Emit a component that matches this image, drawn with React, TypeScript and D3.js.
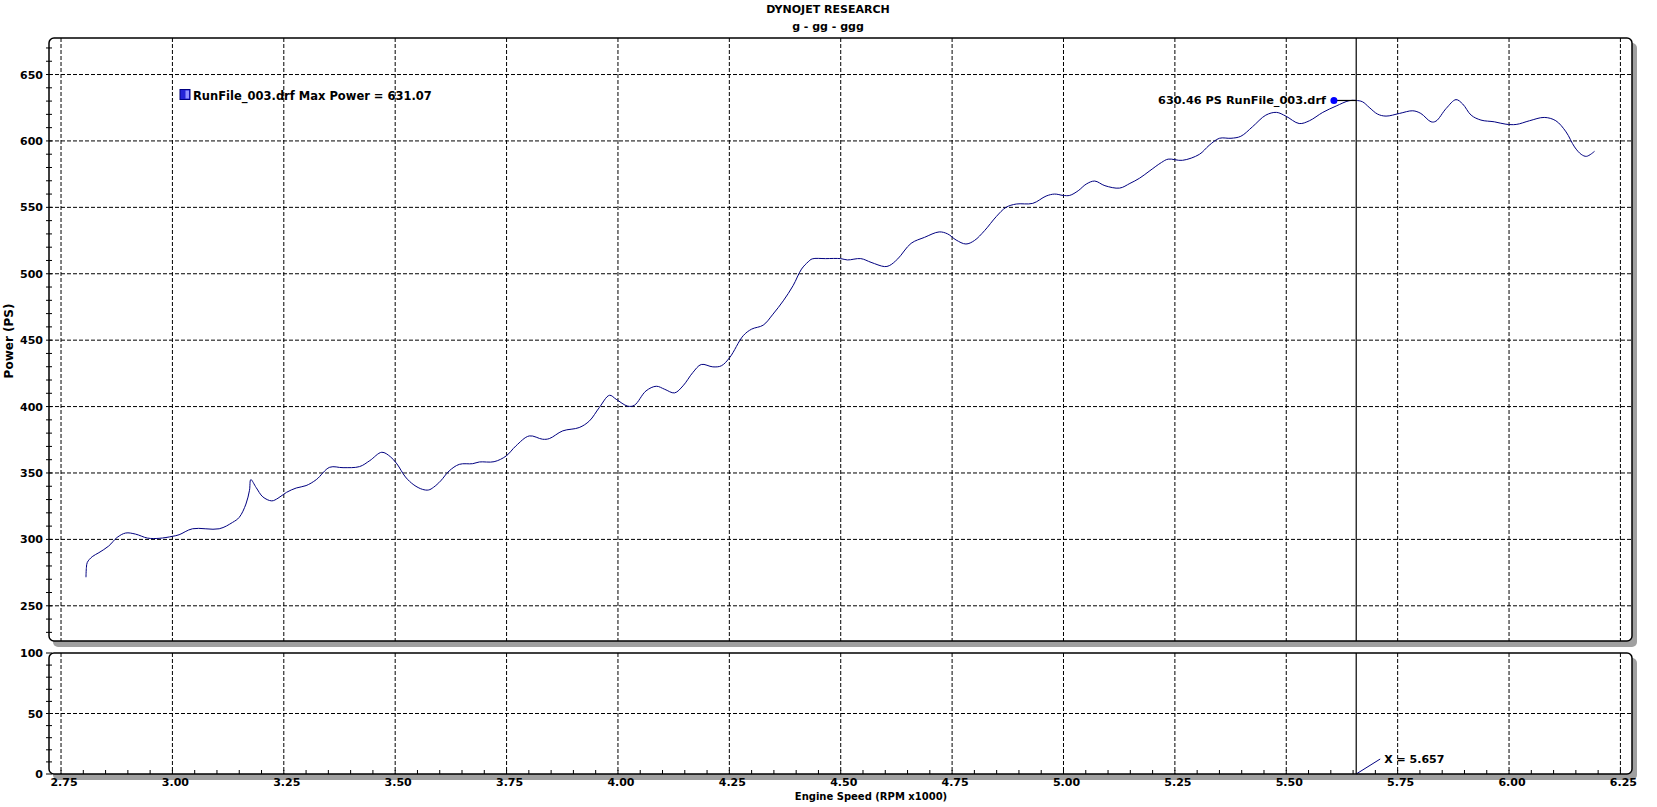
import * as d3 from 'd3';

// Engine speed (x1000 RPM) and power (PS)
const RPM = [
  2.806, 2.807, 2.809, 2.82, 2.835, 2.857, 2.876, 2.895, 2.917, 2.944, 2.97, 3.0, 3.015, 3.045, 3.105,
  3.135, 3.15, 3.165, 3.173, 3.176, 3.188, 3.203, 3.223, 3.237, 3.256, 3.278, 3.3, 3.323, 3.353, 3.383,
  3.42, 3.443, 3.47, 3.489, 3.504, 3.523, 3.542, 3.561, 3.575, 3.586, 3.602, 3.621, 3.644, 3.674, 3.689,
  3.722, 3.749, 3.771, 3.801, 3.831, 3.846, 3.876, 3.913, 3.936, 3.958, 3.981, 3.996, 4.022, 4.037, 4.063,
  4.086, 4.105, 4.127, 4.146, 4.168, 4.187, 4.213, 4.232, 4.251, 4.281, 4.3, 4.326, 4.348, 4.371, 4.393,
  4.412, 4.427, 4.436, 4.466, 4.5, 4.515, 4.545, 4.568, 4.598, 4.609, 4.628, 4.658, 4.688, 4.721, 4.74,
  4.759, 4.781, 4.8, 4.823, 4.849, 4.871, 4.894, 4.931, 4.961, 4.98, 4.999, 5.014, 5.033, 5.051, 5.07,
  5.093, 5.126, 5.149, 5.171, 5.194, 5.22, 5.235, 5.267, 5.305, 5.327, 5.35, 5.376, 5.398, 5.424, 5.454,
  5.478, 5.499, 5.529, 5.552, 5.582, 5.612, 5.641, 5.656, 5.671, 5.686, 5.705, 5.724, 5.754, 5.784, 5.802,
  5.825, 5.836, 5.859, 5.881, 5.896, 5.915, 5.937, 5.967, 5.993, 6.016, 6.046, 6.079, 6.105, 6.128, 6.147,
  6.162, 6.174, 6.192,
];
const POWER = [
  271.5, 279, 282.7, 287, 290, 295, 301.5, 304.8, 304, 301, 300.8, 302.3, 303.5, 308, 308,
  312.8, 316.6, 326.6, 337, 345, 339, 332, 329, 331, 335.4, 338.7, 340.5, 345, 354.3, 354,
  354.8, 359.3, 365.6, 362.3, 356.8, 347, 341, 337.7, 337.2, 339.2, 344, 351.5, 356.5, 357, 358.3,
  358.5, 362.8, 370.4, 377.9, 375.4, 375.9, 381.7, 384.2, 389.2, 399.2, 408.5, 405.5, 400.3, 401, 411.8,
  415.3, 413, 410.3, 415.6, 425.6, 431.7, 429.9, 430.7, 437, 453.3, 458.3, 461.3, 469.6, 479.6, 491,
  503.5, 509, 511.2, 511.4, 511.4, 510.4, 511.4, 508.6, 505.4, 506.1, 511.2, 522.9, 527.4, 531.5, 530,
  525.4, 522.4, 525, 532.5, 543, 550, 552.5, 553, 558.5, 560, 559, 559, 562.5, 567.5, 569.8,
  566.3, 564.5, 568, 572, 577.6, 583.8, 586.3, 585.4, 589.9, 596.7, 602, 602, 603.5, 610.6, 619.4,
  621.5, 618.7, 613.1, 615.2, 621.5, 626.3, 630.3, 630.5, 629.5, 625.3, 620.2, 618.7, 620.7, 622.7, 620.7,
  614.4, 614.9, 624.5, 631.1, 627.8, 619.4, 615.7, 614.4, 612.6, 612.4, 615.2, 617.7, 615.2, 606.8, 595.5,
  589.9, 588.4, 592.2,
];

const X_TICKS = [2.75, 3.0, 3.25, 3.5, 3.75, 4.0, 4.25, 4.5, 4.75, 5.0, 5.25, 5.5, 5.75, 6.0, 6.25];
const POWER_TICKS = [250, 300, 350, 400, 450, 500, 550, 600, 650];
const LOWER_TICKS = [0, 50, 100];

const TITLE = 'DYNOJET RESEARCH';
const SUBTITLE = 'g - gg - ggg';
const RUN_NAME = 'RunFile_003.drf';
const MAX_POWER = 631.07;
const CURSOR_RPM = 5.657;
const CURSOR_POWER = 630.46;
const MARKER_RPM = 5.607;

const W = 1657;
const H = 807;
const LEFT = 49;
const RIGHT = 1632;
const TOP = { y0: 38, y1: 641 };
const LOW = { y0: 653, y1: 774 };
const FONT = 'DejaVu Sans, Verdana, sans-serif';
const LINE_COLOR = '#000080';
const DASH = '4,2';

function Panel({ y0, y1 }: { y0: number; y1: number }) {
  return (
    <>
      <rect x={LEFT + 4} y={y0 + 5} width={RIGHT - LEFT + 1} height={y1 - y0 + 1} rx={5} fill="#a0a0a0" />
      <rect x={LEFT} y={y0} width={RIGHT - LEFT} height={y1 - y0} rx={5} fill="#fff" />
    </>
  );
}

function PanelBorder({ y0, y1 }: { y0: number; y1: number }) {
  return (
    <rect
      x={LEFT} y={y0} width={RIGHT - LEFT} height={y1 - y0} rx={5}
      fill="none" stroke="#000" strokeWidth={1.5}
    />
  );
}

export default function App() {
  const x = d3.scaleLinear().domain([2.723, 6.276]).range([LEFT, RIGHT]);
  const y = d3.scaleLinear().domain([223.5, 677.5]).range([TOP.y1, TOP.y0]);
  const yLow = d3.scaleLinear().domain([0, 100]).range([LOW.y1, LOW.y0]);

  const pts: [number, number][] = RPM.map((r, i) => [r, POWER[i]]);
  const line = d3.line<[number, number]>()
    .x((d) => x(d[0]))
    .y((d) => y(d[1]))
    .curve(d3.curveCatmullRom.alpha(0.5));

  const xMinor = d3.range(2.75, 6.2501, 0.05);
  const yMinor = d3.range(230, 680, 10).filter((v) => v > 223.5 && v < 677.5);
  const lowMinor = d3.range(0, 101, 10);

  const fmtX = d3.format('.2f');
  const cx = x(CURSOR_RPM);
  const cy = y(CURSOR_POWER);
  const mx = x(MARKER_RPM);

  return (
    <svg
      width={W}
      height={H}
      style={{ position: 'absolute', left: 0, top: 0, background: '#fff' }}
      fontFamily={FONT}
      fontWeight="bold"
      fontSize={11}
    >
      <text x={828} y={13} textAnchor="middle">{TITLE}</text>
      <text x={828} y={30} textAnchor="middle">{SUBTITLE}</text>

      <Panel {...TOP} />
      <Panel {...LOW} />

      {/* vertical grid, both panels */}
      {X_TICKS.map((t) => (
        <g key={`vx${t}`} stroke="#000" strokeWidth={1} strokeDasharray={DASH}>
          <line x1={x(t)} x2={x(t)} y1={TOP.y0} y2={TOP.y1} />
          <line x1={x(t)} x2={x(t)} y1={LOW.y0} y2={LOW.y1} />
        </g>
      ))}
      {POWER_TICKS.map((t) => (
        <line key={`hy${t}`} x1={LEFT} x2={RIGHT} y1={y(t)} y2={y(t)} stroke="#000" strokeDasharray={DASH} />
      ))}
      {LOWER_TICKS.filter((t) => t > 0 && t < 100).map((t) => (
        <line key={`hl${t}`} x1={LEFT} x2={RIGHT} y1={yLow(t)} y2={yLow(t)} stroke="#000" strokeDasharray={DASH} />
      ))}

      {/* power trace */}
      <path d={line(pts) ?? ''} fill="none" stroke={LINE_COLOR} strokeWidth={1} />

      {/* cursor */}
      <line x1={cx} x2={cx} y1={TOP.y0} y2={TOP.y1} stroke="#000" strokeWidth={1.2} />
      <line x1={cx} x2={cx} y1={LOW.y0} y2={LOW.y1} stroke="#000" strokeWidth={1.2} />
      <line x1={mx} x2={cx} y1={cy} y2={cy} stroke="#000" strokeWidth={1.2} />
      <circle cx={mx} cy={cy} r={3.5} fill="#0000ff" />
      <text x={mx - 8} y={cy + 4} textAnchor="end" fontSize={11.3}>
        {`${CURSOR_POWER.toFixed(2)} PS ${RUN_NAME}`}
      </text>
      <line x1={cx} y1={LOW.y1} x2={cx + 24} y2={LOW.y1 - 15} stroke={LINE_COLOR} strokeWidth={1} />
      <text x={cx + 28} y={LOW.y1 - 11}>{`X = ${CURSOR_RPM.toFixed(3)}`}</text>

      {/* legend */}
      <rect x={180} y={89.5} width={10} height={10} fill="#2424d8" stroke="#000080" strokeWidth={1} />
      <rect x={185.5} y={90.5} width={3.5} height={8} fill="#9090ff" />
      <text x={193} y={100} fontSize={11.5}>{`${RUN_NAME} Max Power = ${MAX_POWER.toFixed(2)}`}</text>

      <PanelBorder {...TOP} />
      <PanelBorder {...LOW} />

      {/* y ticks */}
      {yMinor.map((t) => (
        <line key={`ym${t}`} x1={LEFT - 3} x2={LEFT + 3} y1={y(t)} y2={y(t)} stroke="#000" />
      ))}
      {lowMinor.map((t) => (
        <line key={`lm${t}`} x1={LEFT - 3} x2={LEFT + 3} y1={yLow(t)} y2={yLow(t)} stroke="#000" />
      ))}
      {POWER_TICKS.map((t) => (
        <text key={`yl${t}`} x={43} y={y(t) + 4} textAnchor="end">{t}</text>
      ))}
      {LOWER_TICKS.map((t) => (
        <text key={`ll${t}`} x={43} y={yLow(t) + 4} textAnchor="end">{t}</text>
      ))}

      {/* x ticks */}
      {xMinor.map((t) => (
        <line key={`xm${t.toFixed(2)}`} x1={x(t)} x2={x(t)} y1={LOW.y1 - 4} y2={LOW.y1} stroke="#000" />
      ))}
      {X_TICKS.map((t) => (
        <text key={`xl${t}`} x={x(t) + 3} y={786} textAnchor="middle">{fmtX(t)}</text>
      ))}

      <text x={871} y={800} textAnchor="middle" fontSize={10}>Engine Speed (RPM x1000)</text>
      <text transform="translate(13,341) rotate(-90)" textAnchor="middle" fontSize={12}>Power (PS)</text>
    </svg>
  );
}
